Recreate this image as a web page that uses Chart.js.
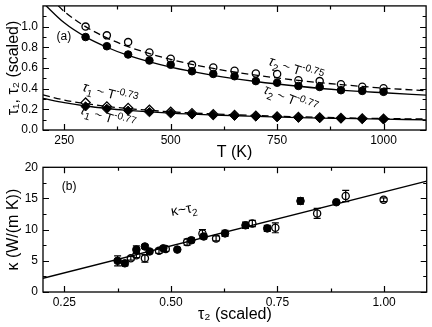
<!DOCTYPE html>
<html><head><meta charset="utf-8">
<script src="https://cdn.jsdelivr.net/npm/chart.js@4"></script>
<style>
html,body{margin:0;padding:0;background:#fff;}
#wrap{position:relative;width:432px;height:327px;overflow:hidden;}
#c1{position:absolute;left:0;top:0;}
#c2{position:absolute;left:0;top:162px;}
</style></head><body>
<div id="wrap"><canvas id="c1" width="432" height="162"></canvas><canvas id="c2" width="432" height="165"></canvas></div>
<script>
// ---------- Panel (a) data ----------
const temps = [300,350,400,450,500,550,600,650,700,750,800,850,900,950,1000];
const tau2Open   = [1.00,0.915,0.85,0.75,0.69,0.63,0.605,0.574,0.546,0.542,0.482,0.473,0.442,0.419,0.404];
const tau2Filled = [0.899,0.81,0.73,0.672,0.631,0.568,0.542,0.52,0.473,0.457,0.426,0.416,0.385,0.378,0.369];
const tau1Open   = [0.265,0.228,0.213,0.195,0.176,0.162,0.152,0.145,0.137,0.131,0.125,0.121,0.116,0.112,0.108];
const tau1Filled = [0.228,0.205,0.187,0.172,0.16,0.15,0.142,0.137,0.13,0.124,0.118,0.115,0.11,0.106,0.102];
// fitted curves
const fitT          = [200,250,300,350,400,500,600,700,800,900,1000,1100];
const fitTau2Dashed = [1.355,1.146,1.0,0.891,0.806,0.682,0.595,0.53,0.479,0.439,0.405,0.38];
const fitTau2Solid  = [1.23,1.036,0.9,0.80,0.721,0.607,0.528,0.469,0.423,0.386,0.36,0.337];
const fitTau1Dashed = [0.34,0.29,0.255,0.228,0.207,0.176,0.155,0.14,0.128,0.118,0.111,0.106];
const fitTau1Solid  = [0.306,0.265,0.232,0.208,0.19,0.163,0.145,0.131,0.12,0.112,0.105,0.098];
const xTicksTop = [250,500,750,1000];
const xMinorTop = [375,625,875];
const yTicksTop = [0,0.2,0.4,0.6,0.8,1.0];
const yMinorTop = [0.1,0.3,0.5,0.7,0.9,1.1];

// ---------- Panel (b) data ----------
const tauFilled   = [0.375,0.392,0.419,0.439,0.45,0.482,0.515,0.548,0.577,0.627,0.675,0.726,0.804,0.888];
const kappaFilled = [5.0,4.6,6.8,7.3,6.5,7.0,6.8,8.3,8.9,9.4,10.7,10.2,14.6,14.4];
const errFilled   = [0.8,0.4,0.6,0.3,0.3,0.3,0,0.4,0.4,0.5,0.5,0.5,0.5,0];
const tauOpen     = [0.406,0.419,0.439,0.472,0.488,0.538,0.574,0.606,0.691,0.745,0.843,0.91,0.999];
const kappaOpen   = [5.4,5.9,5.4,6.6,6.9,8.0,9.4,8.6,11.0,10.3,12.6,15.4,14.8];
const errOpen     = [0.3,0.4,0.6,0.4,0.4,0.5,0.6,0.4,0.5,0.8,0.8,0.9,0.3];
const fitLineTau   = [0.2,1.1];
const fitLineKappa = [2.2,17.8];
const xTicksBot = [0.25,0.5,0.75,1.0];
const xMinorBot = [0.375,0.625,0.875];
const yTicksBot = [0,5,10,15,20];
const yMinorBot = [2.5,7.5,12.5,17.5];

const FAM = '"Liberation Sans", Arial, Helvetica, sans-serif';
const pts = (xs, ys) => xs.map((v,i)=>({x:v, y:ys[i]}));

// frame + inward ticks on all four sides
const framePlugin = {
  id:'frame',
  afterDatasetsDraw(chart, args, o){
    const {ctx, chartArea:a, scales:{x,y}} = chart;
    ctx.save();
    ctx.strokeStyle='#000'; ctx.lineWidth=1.2;
    ctx.beginPath();
    const vt=(v,len)=>{const p=Math.round(x.getPixelForValue(v))+0.5;
      ctx.moveTo(p,a.bottom); ctx.lineTo(p,a.bottom-len); ctx.moveTo(p,a.top); ctx.lineTo(p,a.top+len);};
    const ht=(v,len)=>{const p=Math.round(y.getPixelForValue(v))+0.5;
      ctx.moveTo(a.left,p); ctx.lineTo(a.left+len,p); ctx.moveTo(a.right,p); ctx.lineTo(a.right-len,p);};
    x.ticks.forEach(t=>vt(t.value,6)); (o.xMinor||[]).forEach(v=>vt(v,3.5));
    y.ticks.forEach(t=>ht(t.value,6)); (o.yMinor||[]).forEach(v=>ht(v,3.5));
    ctx.stroke();
    ctx.lineWidth=1.3;
    ctx.strokeRect(a.left, a.top, a.right-a.left, a.bottom-a.top);
    ctx.restore();
  }
};

// error bars
const errPlugin = {
  id:'errbars',
  afterDatasetsDraw(chart){
    const {ctx, scales:{x,y}} = chart;
    chart.data.datasets.forEach(ds=>{
      if(!ds.errors) return;
      ctx.save(); ctx.strokeStyle='#000'; ctx.lineWidth=1.2; ctx.beginPath();
      ds.data.forEach((p,i)=>{
        const e=ds.errors[i]; if(!e) return;
        const px=x.getPixelForValue(p.x), y1=y.getPixelForValue(p.y+e), y2=y.getPixelForValue(p.y-e);
        ctx.moveTo(px,y1); ctx.lineTo(px,y2);
        ctx.moveTo(px-3.5,y1); ctx.lineTo(px+3.5,y1);
        ctx.moveTo(px-3.5,y2); ctx.lineTo(px+3.5,y2);
      });
      ctx.stroke(); ctx.restore();
    });
  }
};

// rich text annotations (subscripts / superscripts)
const textPlugin = {
  id:'rich',
  afterDraw(chart, args, o){
    const {ctx, scales:{x,y}} = chart;
    (o.items||[]).forEach(it=>{
      ctx.save();
      ctx.translate(x.getPixelForValue(it.x), y.getPixelForValue(it.y));
      ctx.rotate((it.angle||0)*Math.PI/180);
      ctx.fillStyle='#000'; ctx.textBaseline='alphabetic';
      let cx=0;
      it.parts.forEach(p=>{
        ctx.font=(p.italic?'italic ':'')+p.size+'px '+FAM;
        ctx.fillText(p.t, cx, p.dy||0);
        cx+=ctx.measureText(p.t).width;
      });
      ctx.restore();
    });
  }
};

function axisX(min,max,ticks,fmt,title,titlePad,h){
  return {type:'linear',min,max,
    grid:{display:false,drawTicks:false}, border:{display:false},
    afterBuildTicks:s=>{s.ticks=ticks.map(v=>({value:v}));},
    afterFit:s=>{s.height=h; s.paddingLeft=0; s.paddingRight=0;},
    ticks:{color:'#000',font:{family:FAM,size:12},padding:3,maxRotation:0,autoSkip:false,callback:fmt},
    title:{display:true,text:title,color:'#000',font:{family:FAM,size:16},padding:{top:0,bottom:titlePad}}};
}
function axisY(min,max,ticks,fmt,title){
  return {type:'linear',min,max,
    grid:{display:false,drawTicks:false}, border:{display:false},
    afterBuildTicks:s=>{s.ticks=ticks.map(v=>({value:v}));},
    afterFit:s=>{s.width=43; s.paddingTop=0; s.paddingBottom=0;},
    ticks:{color:'#000',font:{family:FAM,size:12},padding:5,autoSkip:false,callback:fmt},
    title:{display:true,text:title,color:'#000',font:{family:FAM,size:16},padding:{top:4,bottom:0}}};
}
const openPt = {pointRadius:3.6,pointBackgroundColor:'rgba(0,0,0,0)',pointBorderColor:'#000',pointBorderWidth:1.3,showLine:false};
const fillPt = {pointRadius:3.8,pointBackgroundColor:'#000',pointBorderColor:'#000',pointBorderWidth:1,showLine:false};
const lineDs = (dash)=>({showLine:true,pointRadius:0,borderColor:'#000',borderWidth:1.3,borderDash:dash,cubicInterpolationMode:'monotone',fill:false});

new Chart(document.getElementById('c1'), {
  type:'scatter',
  data:{datasets:[
    Object.assign({data:pts(temps,tau2Open)},openPt),
    Object.assign({data:pts(temps,tau2Filled)},fillPt),
    Object.assign({data:pts(temps,tau1Open)},openPt,{pointStyle:'rectRot',pointRadius:4.6}),
    Object.assign({data:pts(temps,tau1Filled)},fillPt,{pointStyle:'rectRot',pointRadius:4.6}),
    Object.assign({data:pts(fitT,fitTau2Dashed)},lineDs([7,4])),
    Object.assign({data:pts(fitT,fitTau2Solid)},lineDs([])),
    Object.assign({data:pts(fitT,fitTau1Dashed)},lineDs([7,4])),
    Object.assign({data:pts(fitT,fitTau1Solid)},lineDs([])),
  ]},
  options:{
    responsive:false, animation:false, events:[],
    layout:{padding:{top:3,right:2,left:0,bottom:0}},
    plugins:{legend:{display:false},tooltip:{enabled:false},
      frame:{xMinor:xMinorTop,yMinor:yMinorTop},
      rich:{items:[
        {x:232,y:0.87,angle:0,parts:[{t:'(a)',size:12}]},
        {x:728,y:0.63,angle:18,parts:[{t:'τ',size:14,italic:true},{t:'2',size:10,dy:4},{t:' ~ T',size:13},{t:'-0.75',size:10,dy:-6}]},
        {x:716,y:0.36,angle:22,parts:[{t:'τ',size:14,italic:true},{t:'2',size:10,dy:4},{t:' ~ T',size:13},{t:'-0.77',size:10,dy:-6}]},
        {x:291,y:0.38,angle:15,parts:[{t:'τ',size:14,italic:true},{t:'1',size:10,dy:4},{t:' ~ T',size:13},{t:'-0.73',size:10,dy:-6}]},
        {x:286,y:0.16,angle:17,parts:[{t:'τ',size:14,italic:true},{t:'1',size:10,dy:4},{t:' ~ T',size:13},{t:'-0.77',size:10,dy:-6}]},
      ]}},
    scales:{
      x:axisX(200,1100,xTicksTop,v=>String(v),'T (K)',0,32),
      y:axisY(0,1.2,yTicksTop,v=>v.toFixed(1),'τ₁, τ₂ (scaled)')
    }
  },
  plugins:[framePlugin,textPlugin]
});

new Chart(document.getElementById('c2'), {
  type:'scatter',
  data:{datasets:[
    Object.assign({data:pts(tauOpen,kappaOpen),errors:errOpen},openPt),
    Object.assign({data:pts(tauFilled,kappaFilled),errors:errFilled},fillPt),
    Object.assign({data:pts(fitLineTau,fitLineKappa)},lineDs([]),{cubicInterpolationMode:'default',tension:0}),
  ]},
  options:{
    responsive:false, animation:false, events:[],
    layout:{padding:{top:5,right:2,left:0,bottom:0}},
    plugins:{legend:{display:false},tooltip:{enabled:false},
      frame:{xMinor:xMinorBot,yMinor:yMinorBot},
      rich:{items:[
        {x:0.244,y:16.4,angle:0,parts:[{t:'(b)',size:12}]},
        {x:0.502,y:12.2,angle:-10,parts:[{t:'κ~τ',size:14},{t:'2',size:10,dy:4}]},
      ]}},
    scales:{
      x:axisX(0.2,1.1,xTicksBot,v=>v.toFixed(2),'τ₂ (scaled)',3,35),
      y:axisY(0,20,yTicksBot,v=>String(v),'κ (W/(m K))')
    }
  },
  plugins:[framePlugin,errPlugin,textPlugin]
});
</script>
</body></html>
